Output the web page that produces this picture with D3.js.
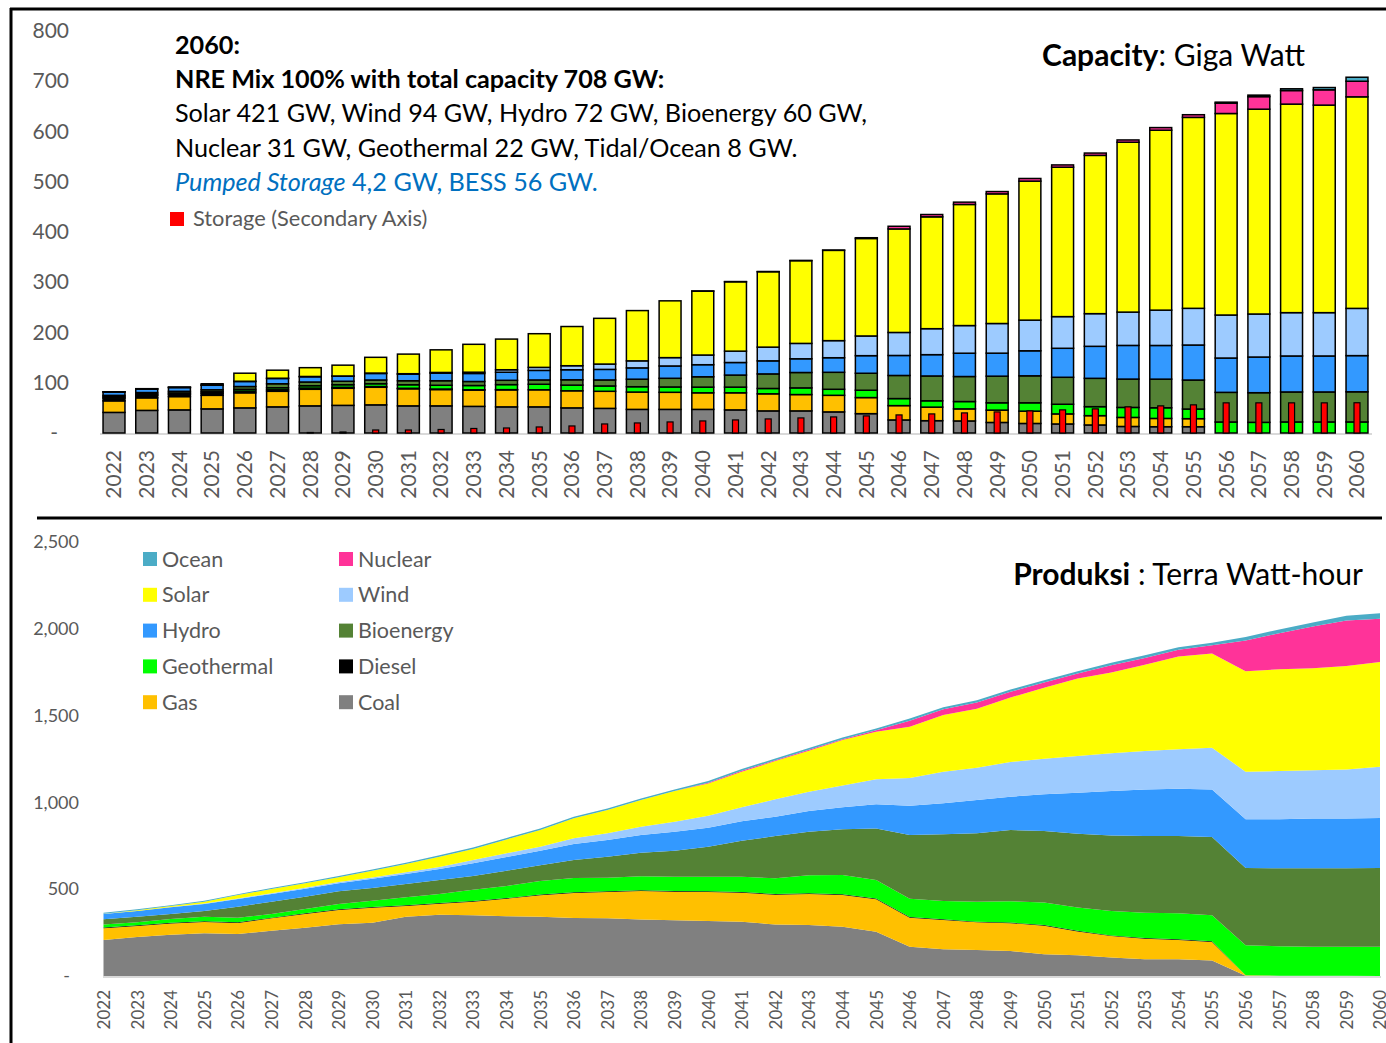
<!DOCTYPE html>
<html>
<head>
<meta charset="utf-8">
<script src="https://cdn.jsdelivr.net/npm/d3@7"></script>
<style>
  body { margin: 0; background: #fff; }
  svg { display: block; font-family: Lato, "Open Sans", sans-serif; }
</style>
</head>
<body>
<svg id="chart" width="1386" height="1043"></svg>
<script>
const years = d3.range(2022, 2061);

// capacity, GW (top chart)
const coalCap = [41,45,46,48,50,52,54,55,56,54, 54,53,52,52,50,49,47,47,47,46, 44,44,42,38.5,26,24.5,24,21,19,18, 16,13,12.5,12.5,0,0,0,0,0];
const gasCap = [23,25,26.5,27,30,31,33,34,35,34, 32.5,32.5,34,34,34,34,34.5,34,33,34, 34,32.5,33,32,28.5,27,24,24.5,24.5,20, 18.5,18,16.5,16,0,0,0,0,0];
const dieselCap = [5.5,5,4.5,4,3.5,3,2.5,2,1.5,1, 1,0.5,0.3,0,0,0,0,0,0,0, 0,0,0,0,0,0,0,0,0,0, 0,0,0,0,0,0,0,0,0];
const geoCap = [2.4,2.5,2.7,3,3.5,4,4.5,5,5.5,7, 7.5,8.5,10,11,11.3,10.6,10.6,10.6,11.3,11.3, 10.6,13.3,12,14.6,14,12.6,14.6,14.6,16.6,19.2, 17.9,19.9,21.2,19.2,21.9,21.2,22,22,22];
const bioCap = [3,3,3.3,4,5.5,8,7.5,7,7.5,8, 9,8,8.6,8.6,10.6,12,15,17.3,20.6,24, 29,30.6,33.8,33.8,46,49.4,49.8,53,53.7,53.7, 56.4,56.4,57,57.7,59,59,59.7,59.7,60];
const hydroCap = [6.7,7,7.5,9,10,10.5,10.5,10,13,13, 15,16,16,19,20,21,22.5,24.5,24,25, 26,27.3,29,35,39.8,42.4,46.4,45.8,49.8,57.7, 63.7,67,67,69.7,68.3,71,71.6,71.6,72];
const windCap = [0.2,0.2,0.2,0.5,0.5,0.5,0.5,0.5,0.8,1, 1.5,2.5,5,6,8,10.6,14,16.6,19.3,22.6, 27.3,30.6,34,39.2,45.8,51.7,55,59,61,63, 65,66.3,70.3,73,85.6,85.6,86.2,86.2,94];
const solarCap = [0.3,0.5,0.8,2.5,16,16,17.5,21.5,31.3,39, 45,55.5,61,67,78,91,100,113,127,138, 150,164.6,179.7,194,206,222.6,241,258,276.6,297.3, 315,338,358,380,401,407.6,415,413,421];
const nuclearCap = [0,0,0,0,0,0,0,0,0,0, 0,0,0,0,0,0,0,0,0.5,0.5, 0.5,0.5,0.5,1.5,5.3,4.6,4.6,4.6,5.3,4.6, 4.6,4.6,5.3,5.3,20.6,25,27,30.5,31];
const oceanCap = [0,0,0,0,0,0,0,0,0,0, 0,0,0,0,0,0,0,0,0,0, 0,0,0,0,0,0,0,0,0,0, 0,0,0,0,2,3,3.5,4.5,8];
const storageCap = [0,0,0,0,0,0,1,2,6,6, 7,9,10,12,14,18,20,22,24,26, 28,30,32,34,36,38,40,42,44,46, 48,52,54,56,60,60,60,60,60.2];

// production, TWh (bottom chart)
const coalGen = [207,225,238,246,242,261,278,298,307,342, 353,350,344,342,334,332,326,321,317,313, 296,294,284,255,169,154,150,144,125,119, 106,96,96,90,2,1,1,1,0];
const gasGen = [68,63,65,65,63,71,79,82,86,61, 63,78,101,123,144,152,164,165,167,167, 172,178,183,187,167,169,159,160,165,137, 124,119,111,106,2,1,1,1,0];
const dieselGen = [4,4,4,4,4,4,4,4,4,4, 4,4,4,4,4,4,4,4,4,4, 4,4,4,4,4,4,4,4,4,4, 4,4,4,4,0,0,0,0,0];
const geoGen = [17,17,21,27,27,21,25,31,37,46, 52,65,69,78,83,78,80,82,84,88, 91,104,111,107,105,105,115,122,129,134, 140,146,150,150,173,170,166,166,168];
const bioGen = [31,32,29,32,63,71,71,73,73,77, 81,79,89,91,103,121,136,150,173,207, 243,251,263,296,367,384,394,411,412,426, 436,441,445,451,445,448,452,452,454];
const hydroGen = [30,33,39,41,45,44,46,46,53,58, 63,73,78,84,92,96,102,109,109,112, 112,119,127,140,169,179,192,192,212,236, 256,269,273,274,281,283,287,287,288];
const windGen = [1,1,2,3,3,5,6,7,8,9, 12,19,22,23,33,39,48,58,69,81, 100,112,126,144,160,182,186,200,205,211, 217,221,227,240,274,278,278,282,295];
const solarGen = [1,4,5,10,19,24,25,28,39,48, 59,64,80,96,115,134,154,177,186,205, 220,236,261,274,295,326,340,371,409,446, 465,497,534,543,579,586,588,597,604];
const nuclearGen = [0,0,0,0,0,0,0,0,0,0, 0,0,0,0,0,0,0,0,4,5, 5,5,5,8,35,33,35,33,29,29, 42,39,39,47,177,207,240,262,249];
const oceanGen = [5,5,5,5,5,6,6,7,7,7, 8,8,8,8,9,9,9,9,10,10, 10,10,10,11,12,12,13,13,14,14, 15,15,15,15,20,22,24,27,31];

const keys = ['coal','gas','diesel','geo','bio','hydro','wind','solar','nuclear','ocean'];
const names = {coal:'Coal', gas:'Gas', diesel:'Diesel', geo:'Geothermal', bio:'Bioenergy', hydro:'Hydro', wind:'Wind', solar:'Solar', nuclear:'Nuclear', ocean:'Ocean'};
const colors = {coal:'#808080', gas:'#FFC000', diesel:'#000000', geo:'#00FF00', bio:'#548235', hydro:'#3399FF', wind:'#9DCBFF', solar:'#FFFF00', nuclear:'#FF3399', ocean:'#4BACC6'};

const capRows = years.map((year, i) => ({year, coal:coalCap[i], gas:gasCap[i], diesel:dieselCap[i], geo:geoCap[i], bio:bioCap[i], hydro:hydroCap[i], wind:windCap[i], solar:solarCap[i], nuclear:nuclearCap[i], ocean:oceanCap[i], storage:storageCap[i]}));
const genRows = years.map((year, i) => ({year, coal:coalGen[i], gas:gasGen[i], diesel:dieselGen[i], geo:geoGen[i], bio:bioGen[i], hydro:hydroGen[i], wind:windGen[i], solar:solarGen[i], nuclear:nuclearGen[i], ocean:oceanGen[i]}));

const svg = d3.select('#chart');
const grey = '#595959';

// frame
svg.append('line').attr('x1', 10).attr('x2', 1386).attr('y1', 9).attr('y2', 9).attr('stroke', '#000').attr('stroke-width', 3);
svg.append('line').attr('x1', 11).attr('x2', 11).attr('y1', 8).attr('y2', 1043).attr('stroke', '#000').attr('stroke-width', 3);
svg.append('line').attr('x1', 37).attr('x2', 1382).attr('y1', 518).attr('y2', 518).attr('stroke', '#000').attr('stroke-width', 3);

//----- top: capacity bars
const x = d3.scaleBand().domain(years).range([97.65, 1373.35]).paddingInner(0.33).paddingOuter(0.165);
const y = d3.scaleLinear().domain([0, 800]).range([433, 31]);
const y2 = d3.scaleLinear().domain([0, 800]).range([433, 31]); // storage, secondary axis

const capG = svg.append('g');
capG.append('line').attr('x1', 100).attr('x2', 1372).attr('y1', 434).attr('y2', 434).attr('stroke', '#D9D9D9').attr('stroke-width', 2);

const capStack = d3.stack().keys(keys)(capRows);
capG.selectAll('g.layer')
  .data(capStack)
  .join('g')
  .attr('class', 'layer')
  .attr('fill', s => colors[s.key])
  .selectAll('rect')
  .data(s => s.filter(d => d[1] - d[0] > 0))
  .join('rect')
  .attr('x', d => x(d.data.year))
  .attr('y', d => y(d[1]))
  .attr('width', x.bandwidth())
  .attr('height', d => y(d[0]) - y(d[1]))
  .attr('stroke', '#000')
  .attr('stroke-width', 1.5);

//storage bars
const sw = 6;
capG.selectAll('rect.storage')
  .data(capRows.filter(d => d.storage > 0))
  .join('rect')
  .attr('class', 'storage')
  .attr('x', d => x(d.year) + x.bandwidth() / 2 - sw / 2)
  .attr('y', d => y2(d.storage))
  .attr('width', sw)
  .attr('height', d => y2(0) - y2(d.storage))
  .attr('fill', '#FF0000')
  .attr('stroke', '#000')
  .attr('stroke-width', 1.2);

const yAxis = capG.append('g')
  .attr('transform', 'translate(69,0)')
  .call(d3.axisLeft(y).tickValues(d3.range(0, 801, 100)).tickSize(0).tickPadding(0).tickFormat(d => d === 0 ? '-' : d));
yAxis.select('.domain').remove();
yAxis.selectAll('text').attr('font-family', 'Lato').attr('font-size', 21).attr('fill', grey)
  .filter(d => d === 0).attr('dx', -11);

const xAxis = capG.append('g')
  .attr('transform', 'translate(0,450)')
  .call(d3.axisBottom(x).tickSize(0).tickPadding(0));
xAxis.select('.domain').remove();
xAxis.selectAll('text')
  .attr('font-family', 'Lato').attr('font-size', 21).attr('fill', grey)
  .attr('transform', 'rotate(-90)')
  .attr('text-anchor', 'end')
  .attr('x', 0).attr('y', 0).attr('dy', '0.35em');

// annotation
const note = capG.append('g').attr('font-size', 25.2).attr('fill', '#000');
note.append('text').attr('x', 175).attr('y', 54).attr('font-weight', 'bold').text('2060:');
note.append('text').attr('x', 175).attr('y', 88).attr('font-weight', 'bold').text('NRE Mix 100% with total capacity 708 GW:');
note.append('text').attr('x', 175).attr('y', 122).text('Solar 421 GW, Wind 94 GW, Hydro 72 GW, Bioenergy 60 GW,');
note.append('text').attr('x', 175).attr('y', 157).text('Nuclear 31 GW, Geothermal 22 GW, Tidal/Ocean 8 GW.');
const ps = note.append('text').attr('x', 175).attr('y', 191).attr('fill', '#0070C0');
ps.append('tspan').attr('font-style', 'italic').text('Pumped Storage');
ps.append('tspan').text(' 4,2 GW, BESS 56 GW.');

capG.append('rect').attr('x', 170).attr('y', 212).attr('width', 14).attr('height', 14).attr('fill', '#FF0000');
capG.append('text').attr('x', 193).attr('y', 226).attr('font-size', 21.8).attr('fill', grey).text('Storage (Secondary Axis)');

const t1 = capG.append('text').attr('x', 1305).attr('y', 66).attr('text-anchor', 'end').attr('font-size', 30);
t1.append('tspan').attr('font-weight', 'bold').text('Capacity');
t1.append('tspan').text(': Giga Watt');

//----- bottom: production areas
const xb = d3.scaleLinear().domain([2022, 2060]).range([103.5, 1380]);
const yb = d3.scaleLinear().domain([0, 2500]).range([976, 542]);

const genG = svg.append('g');
const genStack = d3.stack().keys(keys)(genRows);
const area = d3.area()
  .x(d => xb(d.data.year))
  .y0(d => yb(d[0]))
  .y1(d => yb(d[1]));

genG.selectAll('path.area')
  .data(genStack)
  .join('path')
  .attr('class', 'area')
  .attr('fill', s => colors[s.key])
  .attr('d', area);

genG.append('line').attr('x1', 103).attr('x2', 1381).attr('y1', 977).attr('y2', 977).attr('stroke', '#D9D9D9').attr('stroke-width', 2);

const ybAxis = genG.append('g')
  .attr('transform', 'translate(79,0)')
  .call(d3.axisLeft(yb).tickValues(d3.range(0, 2501, 500)).tickSize(0).tickPadding(0).tickFormat(d => d === 0 ? '-' : d3.format(',')(d)));
ybAxis.select('.domain').remove();
ybAxis.selectAll('text').attr('font-family', 'Lato').attr('font-size', 18).attr('fill', grey)
  .filter(d => d === 0).attr('dx', -9);

const xbAxis = genG.append('g')
  .attr('transform', 'translate(0,990)')
  .call(d3.axisBottom(xb).tickValues(years).tickSize(0).tickPadding(0).tickFormat(d3.format('d')));
xbAxis.select('.domain').remove();
xbAxis.selectAll('text')
  .attr('font-family', 'Lato').attr('font-size', 17).attr('fill', grey)
  .attr('transform', 'rotate(-90)')
  .attr('text-anchor', 'end')
  .attr('x', 0).attr('y', 0).attr('dy', '0.35em');

// legend
const legendOrder = ['ocean','nuclear','solar','wind','hydro','bio','geo','diesel','gas','coal'];
const leg = genG.selectAll('g.leg')
  .data(legendOrder)
  .join('g')
  .attr('class', 'leg')
  .attr('transform', (k, i) => `translate(${i % 2 ? 339 : 143},${559 + Math.floor(i / 2) * 35.8})`);
leg.append('rect').attr('x', 0).attr('y', -7).attr('width', 14).attr('height', 14).attr('fill', k => colors[k]);
leg.append('text').attr('x', 19).attr('y', 7.5).attr('font-size', 21.5).attr('fill', grey).text(k => names[k]);

const t2 = genG.append('text').attr('x', 1363).attr('y', 585).attr('text-anchor', 'end').attr('font-size', 30);
t2.append('tspan').attr('font-weight', 'bold').text('Produksi');
t2.append('tspan').text(' : Terra Watt-hour');
</script>
</body>
</html>
